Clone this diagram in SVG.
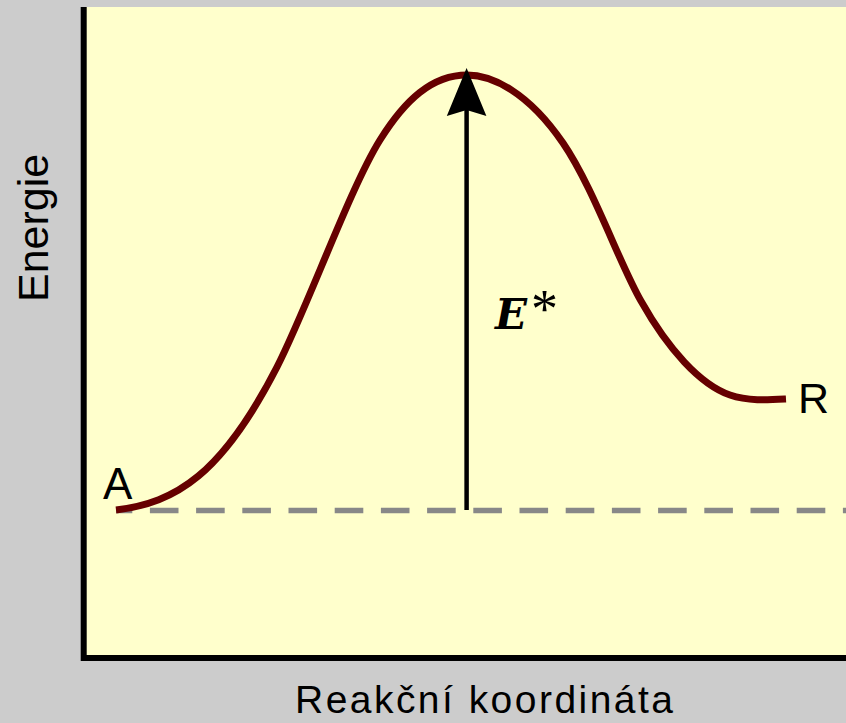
<svg xmlns="http://www.w3.org/2000/svg" width="846" height="723" viewBox="0 0 846 723">
  <style>
    .lbl { font-family: "Liberation Sans", Arial, sans-serif; fill: #000; }
    .math { font-family: "DejaVu Serif", "Liberation Serif", serif; fill: #000; }
  </style>
  <defs>
    <marker id="arrowhead" markerUnits="userSpaceOnUse" orient="auto" refX="0" refY="0" markerWidth="60" markerHeight="60" viewBox="-10 -20 50 40" overflow="visible">
      <path d="M35,0 L-5,-16.5 L0,0 L-5,16.5 Z" fill="#000"/>
    </marker>
  </defs>
  <rect x="0" y="0" width="846" height="723" fill="#cccccc"/>
  <g id="plot-area">
    <rect x="83.5" y="7" width="770" height="651" fill="#ffffcc"/>
    <path d="M83.7,7 V657.9 H846" fill="none" stroke="#000" stroke-width="6"/>
  </g>
  <g id="reference-level">
    <line x1="116" y1="510.5" x2="846" y2="510.5" stroke="#888888" stroke-width="5.5" stroke-dasharray="28.6 17.6" stroke-dashoffset="12.3"/>
  </g>
  <g id="energy-curve">
    <path d="M116,510 C176,502.8 222,474.3 277,367 C307,308.5 350,188 380,140 C405,100 432,75 467,75 C492,75 528,91.9 563,143 C593,186.8 620,265 641,301 C668,349 700,384.5 730,395 C748,401.3 768,400 786,399" fill="none" stroke="#660000" stroke-width="7"/>
  </g>
  <g id="connectors">
    <line x1="466.6" y1="510" x2="466.6" y2="110" stroke="#000" stroke-width="4.5" marker-end="url(#arrowhead)"/>
  </g>
  <g id="label-A"><text class="lbl" x="103" y="499" font-size="44">A</text></g>
  <g id="label-R"><text class="lbl" x="798" y="413" font-size="43">R</text></g>
  <g id="label-E"><text class="math" x="495" y="329" font-size="42" font-weight="bold" font-style="italic">E</text><text x="531" y="327" font-family="'Liberation Serif', serif" font-size="54" fill="#000">*</text></g>
  <g id="axis-y-label"><text class="lbl" transform="translate(48,302) rotate(-90)" font-size="43">Energie</text></g>
  <g id="axis-x-label"><text class="lbl" x="295" y="712.5" font-size="39" textLength="378" lengthAdjust="spacing">Reakční koordináta</text></g>
</svg>
